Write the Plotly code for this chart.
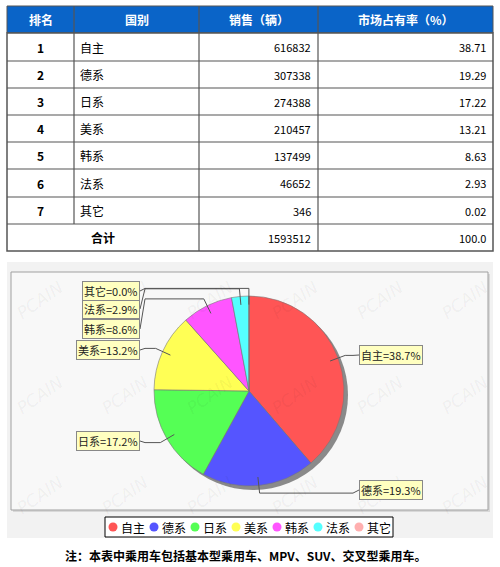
import math
import plotly.graph_objects as go

# table / pie data
headers = ["排名", "国别", "销售（辆）", "市场占有率（%）"]
ranks = [1, 2, 3, 4, 5, 6, 7]
countries = ["自主", "德系", "日系", "美系", "韩系", "法系", "其它"]
sales = [616832, 307338, 274388, 210457, 137499, 46652, 346]
shares = [38.71, 19.29, 17.22, 13.21, 8.63, 2.93, 0.02]
total_label = "合计"
total_sales = 1593512
total_share = "100.0"
note = "注：本表中乘用车包括基本型乘用车、MPV、SUV、交叉型乘用车。"

# layout (pixels)
W, H = 500, 567
col_x = [7, 74, 199, 318, 493]
row_y = [6, 33, 61, 88, 115, 142, 169, 197, 224, 251]
cx, cy, r = 249, 391, 95
label_y_px = [355, 490, 441, 350, 329, 309, 291]
colors = ["#ff5555", "#5555ff", "#55ff55", "#ffff55", "#ff55ff", "#55ffff", "#ffafaf"]
FONT = "Noto Sans CJK SC, sans-serif"


def px_x(x):
    return x / W


def px_y(y):
    return 1 - y / H


shapes = []
annotations = []

# ---- table ----
shapes.append(dict(type="rect", x0=col_x[0], x1=col_x[-1], y0=row_y[0], y1=row_y[1],
                   fillcolor="#0a64c8", line=dict(color="#555555", width=1), layer="below"))
shapes.append(dict(type="rect", x0=col_x[0], x1=col_x[-1], y0=row_y[1], y1=row_y[-1],
                   fillcolor="white", line=dict(color="#555555", width=1.5), layer="below"))
for y in row_y[2:-1]:
    shapes.append(dict(type="line", x0=col_x[0], x1=col_x[-1], y0=y, y1=y,
                       line=dict(color="#555555", width=1.2), layer="below"))
for i, x in enumerate(col_x[1:-1]):
    y_end = row_y[-2] if i == 0 else row_y[-1]
    shapes.append(dict(type="line", x0=x, x1=x, y0=row_y[0], y1=y_end,
                       line=dict(color="#555555", width=1.2), layer="below"))

for i, h in enumerate(headers):
    annotations.append(dict(x=(col_x[i] + col_x[i + 1]) / 2, y=(row_y[0] + row_y[1]) / 2,
                            text="<b>" + h + "</b>", showarrow=False,
                            font=dict(color="white", size=12, family=FONT)))

for i in range(len(ranks)):
    ym = (row_y[i + 1] + row_y[i + 2]) / 2
    annotations.append(dict(x=(col_x[0] + col_x[1]) / 2, y=ym, text="<b>%d</b>" % ranks[i],
                            showarrow=False, font=dict(size=12, family=FONT, color="black")))
    annotations.append(dict(x=col_x[1] + 4, y=ym, text=countries[i], xanchor="left",
                            showarrow=False, font=dict(size=12, family=FONT, color="black")))
    annotations.append(dict(x=col_x[3] - 5, y=ym, text=str(sales[i]), xanchor="right",
                            showarrow=False, font=dict(size=11, family=FONT, color="black")))
    annotations.append(dict(x=col_x[4] - 5, y=ym, text="%.2f" % shares[i], xanchor="right",
                            showarrow=False, font=dict(size=11, family=FONT, color="black")))

ym = (row_y[-2] + row_y[-1]) / 2
annotations.append(dict(x=(col_x[0] + col_x[2]) / 2, y=ym, text="<b>" + total_label + "</b>",
                        showarrow=False, font=dict(size=12, family=FONT, color="black")))
annotations.append(dict(x=col_x[3] - 5, y=ym, text=str(total_sales), xanchor="right",
                        showarrow=False, font=dict(size=11, family=FONT, color="black")))
annotations.append(dict(x=col_x[4] - 5, y=ym, text=total_share, xanchor="right",
                        showarrow=False, font=dict(size=11, family=FONT, color="black")))

# ---- chart panel ----
shapes.append(dict(type="rect", x0=7, x1=493, y0=262, y1=538, fillcolor="#f2f2f2",
                   line=dict(width=0), layer="below"))
shapes.append(dict(type="rect", x0=13, x1=490, y0=274, y1=512, fillcolor="#d8d8d8",
                   line=dict(width=0), layer="below"))
shapes.append(dict(type="rect", x0=11, x1=488, y0=272, y1=510, fillcolor="#f8f8f8",
                   line=dict(color="#a0a0a0", width=1), layer="below"))

# faint watermarks
for wy in [300, 395, 495]:
    for wx in [40, 125, 210, 295, 380, 465]:
        annotations.append(dict(x=wx, y=wy, text="<i>PCAIN</i>", showarrow=False, textangle=-35,
                                font=dict(size=17, color="rgba(0,0,0,0.05)", family="DejaVu Sans")))

# leader lines + labels
total = sum(sales)
cum = 0
for i, v in enumerate(sales):
    mid = (cum + v / 2) / total * 2 * math.pi
    cum += v
    dx, dy = math.sin(mid), -math.cos(mid)
    side = 1 if dx >= 0 else -1
    p0 = (cx + 0.91 * r * dx, cy + 0.91 * r * dy)
    p1 = (cx + 1.08 * r * dx, cy + 1.08 * r * dy)
    p2 = (cx + side * 104, p1[1])
    edge = cx + 110 if side > 0 else cx - 109
    p3 = (edge, label_y_px[i])
    path = "M %.1f %.1f L %.1f %.1f L %.1f %.1f L %.1f %.1f" % (p0 + p1 + p2 + p3)
    shapes.append(dict(type="path", path=path, line=dict(color="#555555", width=1), layer="above"))

    text = "%s=%.1f%%" % (countries[i], v / total * 100)
    anchor = "left" if side > 0 else "right"
    annotations.append(dict(x=edge, y=label_y_px[i], text=text, xanchor=anchor,
                            showarrow=False, bgcolor="#ffffc0", bordercolor="#888888",
                            borderwidth=1, borderpad=1,
                            font=dict(size=11, family=FONT, color="#222222")))

# legend box
shapes.append(dict(type="rect", x0=105, x1=393, y0=517, y1=537, fillcolor="white",
                   line=dict(color="black", width=1), layer="below"))
leg_x = [113 + 41 * i for i in range(len(countries))]
for i, name in enumerate(countries):
    annotations.append(dict(x=leg_x[i] + 6, y=527, text=name, xanchor="left", showarrow=False,
                            font=dict(size=12, family=FONT, color="black")))

annotations.append(dict(x=245, y=555, text="<b>" + note + "</b>", showarrow=False,
                        font=dict(size=12, family=FONT, color="black")))

for a in annotations:
    a["xref"] = "x"
    a["yref"] = "y"
for s in shapes:
    s["xref"] = "x"
    s["yref"] = "y"

fig = go.Figure()

# legend markers
fig.add_trace(go.Scatter(x=leg_x, y=[527] * len(leg_x), mode="markers",
                         marker=dict(size=9, color=colors, line=dict(width=0)),
                         hoverinfo="skip", showlegend=False))

# pie shadow
shadow_off = 4
fig.add_trace(go.Pie(values=[1], marker=dict(colors=["#8a8a8a"]), textinfo="none",
                     hoverinfo="skip", showlegend=False, sort=False,
                     domain=dict(x=[px_x(cx - r + shadow_off), px_x(cx + r + shadow_off)],
                                 y=[px_y(cy + r + shadow_off), px_y(cy - r + shadow_off)])))

fig.add_trace(go.Pie(labels=countries, values=sales, sort=False, direction="clockwise",
                     rotation=0, textinfo="none", showlegend=False,
                     marker=dict(colors=colors, line=dict(color="#777777", width=0.6)),
                     domain=dict(x=[px_x(cx - r), px_x(cx + r)],
                                 y=[px_y(cy + r), px_y(cy - r)])))

fig.update_layout(
    width=W,
    height=H,
    margin=dict(l=0, r=0, t=0, b=0),
    paper_bgcolor="white",
    plot_bgcolor="rgba(0,0,0,0)",
    xaxis=dict(range=[0, W], visible=False, fixedrange=True),
    yaxis=dict(range=[H, 0], visible=False, fixedrange=True),
    shapes=shapes,
    annotations=annotations,
    showlegend=False,
)

fig.write_html(
    "out.html",
    config={"displayModeBar": False},
    post_script="document.body.style.margin='0';document.body.style.overflow='hidden';",
)
